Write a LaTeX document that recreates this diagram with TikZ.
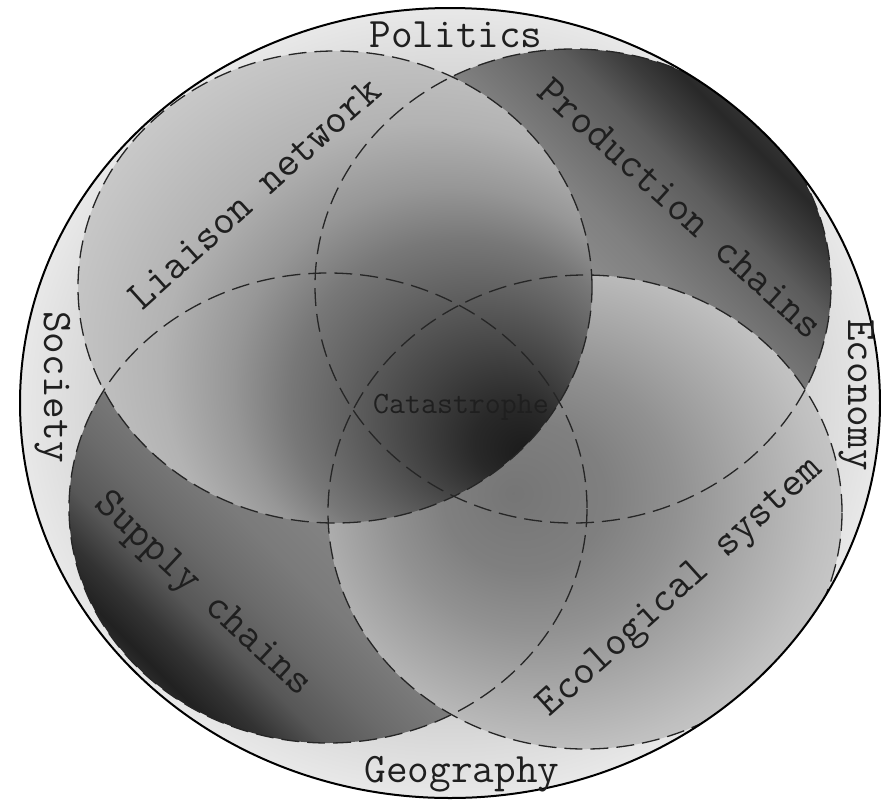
\documentclass[tikz,border=0pt]{standalone}
\pgfdeclareradialshading{outershade}{\pgfpoint{0bp}{0bp}}{color(0bp)=(black!28); color(18bp)=(black!20); color(25bp)=(black!9); color(50bp)=(black!9)}
\pgfdeclareradialshading{tlshade}{\pgfpoint{19bp}{-18bp}}{color(0bp)=(black!90); color(4bp)=(black!84); color(8bp)=(black!74); color(13bp)=(black!62); color(17bp)=(black!53); color(21bp)=(black!41); color(26bp)=(black!30); color(34bp)=(black!21); color(50bp)=(black!18)}
\pgfdeclarehorizontalshading{trshade}{100bp}{color(0bp)=(black!40); color(50bp)=(black!44); color(57bp)=(black!50); color(61bp)=(black!56); color(66bp)=(black!64); color(70bp)=(black!76); color(73bp)=(black!84); color(75bp)=(black!80); color(100bp)=(black!80)}
\pgfdeclarehorizontalshading{blshade}{100bp}{color(0bp)=(black!45); color(50bp)=(black!48); color(57bp)=(black!52); color(62bp)=(black!58); color(67bp)=(black!66); color(71bp)=(black!80); color(74bp)=(black!87); color(75bp)=(black!84); color(100bp)=(black!84)}
\pgfdeclareradialshading{brshade}{\pgfpoint{-7bp}{2bp}}{color(0bp)=(black!54); color(8bp)=(black!50); color(14bp)=(black!43); color(20bp)=(black!34); color(26bp)=(black!25); color(32bp)=(black!18); color(50bp)=(black!16)}
\begin{document}
\begin{tikzpicture}[x=1pt,y=1pt,
  dashline/.style={draw=black!85, line width=1.3pt, dash pattern=on 18pt off 8pt},
  border/.style={draw=black, line width=2pt},
  lbl/.style={font=\ttfamily\fontsize{42}{44}\selectfont, text=black!88, inner sep=0pt},
  diag/.style={lbl, text depth=0pt, anchor=center},
  small/.style={font=\ttfamily\fontsize{31}{33}\selectfont, text=black!88, inner sep=0pt}]
\useasboundingbox (0,0) rectangle (881,-801);
% outer ellipse
\shade[shading=outershade] (450,-403) ellipse [x radius=430pt, y radius=395pt];
\begin{scope}
  \clip (450,-403) ellipse [x radius=430pt, y radius=395pt];
  % four sets
  \shade[shading=blshade, shading angle=225] (328,-508) ellipse [x radius=259pt, y radius=235pt];
  \shade[shading=trshade, shading angle=45] (573,-286) ellipse [x radius=258pt, y radius=237pt];
  \shade[shading=brshade] (585,-512) ellipse [x radius=257pt, y radius=237pt];
  \shade[shading=tlshade] (335,-287) ellipse [x radius=257pt, y radius=236pt];
  % dashed outlines
  \draw[dashline] (328,-508) ellipse [x radius=259pt, y radius=235pt];
  \draw[dashline] (573,-286) ellipse [x radius=258pt, y radius=237pt];
  \draw[dashline] (585,-512) ellipse [x radius=257pt, y radius=237pt];
  \draw[dashline] (335,-287) ellipse [x radius=257pt, y radius=236pt];
\end{scope}
\draw[border] (450,-403) ellipse [x radius=430pt, y radius=395pt];
% labels
\node[lbl, anchor=base] (politics) at (456,-47) {Politics};
\node[lbl, anchor=base] (geography) at (462,-782) {Geography};
\node[lbl, anchor=base, rotate=-90] (society) at (44,-387) {Society};
\node[lbl, anchor=base, rotate=-90] (economy) at (848,-395) {Economy};
\node[small, anchor=base] (catastrophe) at (461,-413) {Catastrophe};
\node[diag, rotate=42] (liaison) at (254,-193) {Liaison network};
\node[diag, rotate=-42] (production) at (681,-208) {Production chains};
\node[diag, rotate=-43] (supply) at (205,-592) {Supply chains};
\node[diag, rotate=42] (ecological) at (678,-585) {Ecological system};
\end{tikzpicture}
\end{document}
